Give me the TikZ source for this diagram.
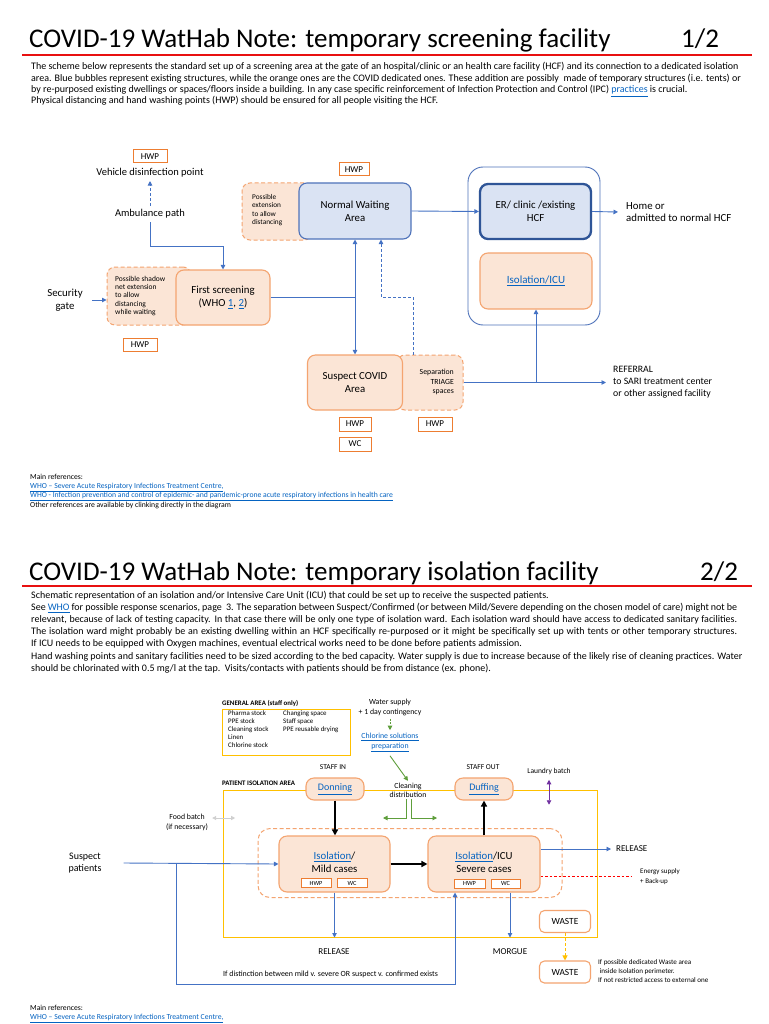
\documentclass[tikz,border=0pt]{standalone}
\usepackage{fontspec}
\setmainfont{Carlito}
\usetikzlibrary{arrows.meta}
\definecolor{orgfill}{HTML}{FBE5D6}
\definecolor{orgline}{HTML}{F4A470}
\definecolor{orgdark}{HTML}{ED7D31}
\definecolor{bluefill}{HTML}{DAE3F3}
\definecolor{blueline}{HTML}{4F73BA}
\definecolor{bluedark}{HTML}{2F5597}
\definecolor{arrblue}{HTML}{4472C4}
\definecolor{linkblue}{HTML}{0563C1}
\definecolor{ylw}{HTML}{FFC000}
\definecolor{grn}{HTML}{5E9E3B}
\definecolor{prp}{HTML}{7030A0}
\definecolor{titlered}{HTML}{E81010}
\definecolor{lgray}{HTML}{D0D0D0}
\newcommand{\lnk}[1]{\textcolor{linkblue}{\underline{#1}}}
\newcommand{\fsz}[2]{\fontsize{#1}{#2}\selectfont}
\begin{document}
\begin{tikzpicture}[x=1pt,y=-1pt,
  sz/.style 2 args={minimum width=#1pt, minimum height=#2pt},
  obox/.style={draw=orgline, fill=orgfill, rounded corners=8pt, line width=1.1pt, inner sep=0pt},
  dbox/.style={draw=orgline, fill=orgfill, dash pattern=on 4pt off 2.5pt, rounded corners=8pt, line width=1pt, inner sep=0pt},
  dnbox/.style={draw=orgline, dash pattern=on 4pt off 2.5pt, rounded corners=12pt, line width=1pt, inner sep=0pt},
  bbox/.style={draw=blueline, fill=bluefill, rounded corners=8pt, line width=1.1pt, inner sep=0pt},
  hbox/.style={draw=orgdark, fill=white, line width=1pt, inner sep=0pt, font=\fsz{9}{10}},
  wbox/.style={draw=orgline, fill=white, rounded corners=5pt, line width=1.1pt, inner sep=0pt},
  ln/.style={draw=arrblue, line width=0.9pt},
  arr/.style={draw=arrblue, line width=0.9pt, -{Triangle[length=4.5pt,width=4.5pt]}},
  arrb/.style={draw=arrblue, line width=0.9pt, {Triangle[length=4.5pt,width=4.5pt]}-{Triangle[length=4.5pt,width=4.5pt]}},
  garr/.style={draw=grn, line width=0.9pt, -{Triangle[length=4.5pt,width=4.5pt]}},
  parr/.style={draw=prp, line width=0.9pt, {Triangle[length=4.5pt,width=4.5pt]}-{Triangle[length=4.5pt,width=4.5pt]}},
  grarr/.style={draw=lgray, line width=0.9pt, {Triangle[length=4pt,width=4pt]}-{Triangle[length=4pt,width=4pt]}},
  yarr/.style={draw=ylw, line width=1pt, dash pattern=on 3pt off 2pt, -{Triangle[length=5pt,width=5pt]}},
  bkarr/.style={draw=black, line width=2pt, -{Triangle[length=6pt,width=6pt]}},
  lbl/.style={font=\fsz{10.8}{13}, align=center},
  ]
\useasboundingbox (0,0) rectangle (768,1024);
\fill[white] (0,0) rectangle (768,1024);

% ================= PAGE 1 =================
\node[anchor=base west, inner sep=0pt, font=\fsz{27}{30}] (title1) at (29,48) {COVID-19 WatHab Note: temporary screening facility};
\node[anchor=base west, inner sep=0pt, font=\fsz{27}{30}] (page1) at (681,48) {1/2};
\draw[titlered, line width=1.3pt] (22,55) -- (752,55);

\begin{scope}[every node/.style={anchor=base west, inner sep=0pt, font=\fsz{10}{11}}]
\node at (31,70) {The scheme below represents the standard set up of a screening area at the gate of an hospital/clinic or an health care facility (HCF) and its connection to a dedicated isolation};
\node at (31,81.5) {area. Blue bubbles represent existing structures, while the orange ones are the COVID dedicated ones. These addition are possibly\ \ made of temporary structures (i.e. tents) or};
\node at (31,93) {by re-purposed existing dwellings or spaces/floors inside a building. In any case specific reinforcement of Infection Protection and Control (IPC) \lnk{practices} is crucial.};
\node at (31,104) {Physical distancing and hand washing points (HWP) should be ensured for all people visiting the HCF.};
\end{scope}

% top-left
\node[hbox, sz={34}{13}] (hwpA) at (150,156.5) {HWP};
\node[font=\fsz{10.5}{12}] (veh) at (150,173) {Vehicle disinfection point};
\node[font=\fsz{10.5}{12}] (amb) at (150,214) {Ambulance path};
\draw[arr, dash pattern=on 3pt off 2pt] (amb.north) -- (veh.south);

\node[dbox, sz={84}{58}] (snet) at (149,296) {};
\node[obox, sz={94}{55}, lbl] (fs) at (223,297.5) {First screening\\(WHO \lnk{1}, \lnk{2})};
\node[anchor=west, align=left, inner sep=0pt, font=\fsz{7.5}{8.4}] (snett) at (115,296) {Possible shadow\\net extension\\to allow\\distancing\\while waiting};
\coordinate (ambk) at (223,246);
\draw[arr] (amb.south) |- (ambk) -- (fs.north);

\node[lbl] (sec) at (65,300) {Security\\gate};
\draw[arr] ([xshift=6pt]sec.east) -- (snet.west |- sec.east);
\node[hbox, sz={34}{13}] (hwpB) at (140,344.5) {HWP};

% normal waiting
\node[dbox, sz={70}{57}] (ext) at (277,211.5) {};
\node[bbox, sz={112}{56}, lbl] (nwa) at (355,211) {Normal Waiting\\Area};
\node[anchor=west, align=left, inner sep=0pt, font=\fsz{7.3}{8.3}] (extt) at (252,210) {Possible\\extension\\to allow\\distancing};
\node[hbox, sz={30}{13}] (hwpC) at (354,169.5) {HWP};

% container
\node[draw=blueline, rounded corners=15pt, line width=0.9pt, sz={132}{158}] (cont) at (534,246) {};
\node[draw=bluedark, fill=bluefill, line width=2.3pt, rounded corners=8pt, sz={111}{55}, lbl, inner sep=0pt] (er) at (535.5,211.5) {ER/ clinic /existing\\HCF};
\node[obox, sz={112}{56}, font=\fsz{11}{13}] (iso) at (536,281) {\lnk{Isolation/ICU}};

% suspect
\node[dbox, sz={66}{55}] (sep) at (430,382.5) {};
\node[obox, sz={95}{55}, lbl] (sus) at (355,382.5) {Suspect COVID\\Area};
\node[anchor=east, align=right, inner sep=0pt, font=\fsz{7.8}{9.3}] (sept) at (454,382) {Separation\\TRIAGE\\spaces};
\node[hbox, sz={32}{14}] (hwpD) at (355,424) {HWP};
\node[hbox, sz={32}{14}] (wcA) at (355,444) {WC};
\node[hbox, sz={34}{14}] (hwpE) at (435,424) {HWP};

% connectors
\draw[ln] (fs.east) -- (fs.east -| nwa.south);
\draw[arrb] (nwa.south) -- (sus.north);
\draw[arr] (nwa.east) -- (er.west);
\coordinate (d1) at (413,0);
\coordinate (d2) at (381,297);
\draw[arr, dash pattern=on 3pt off 2pt] (sep.north -| d1) |- (d2) -- (nwa.south -| d2);

\node[anchor=west, align=left, inner sep=0pt, font=\fsz{10.8}{12}] (home) at (626,212) {Home or\\admitted to normal HCF};
\draw[arr] (er.east) -- ([xshift=-8pt]home.west);

\node[anchor=west, align=left, inner sep=0pt, font=\fsz{9.8}{12}] (refl) at (613,382) {REFERRAL\\to SARI treatment center\\or other assigned facility};
\draw[arr] (sep.east) -- ([xshift=-7pt]refl.west |- sep.east);
\draw[arr] (iso.south |- sep.east) -- (iso.south);

\node[anchor=north west, align=left, inner sep=0pt, font=\fsz{7.7}{9.2}] (refs1) at (30,474) {Main references:\\\lnk{WHO – Severe Acute Respiratory Infections Treatment Centre,}\\\lnk{WHO - Infection prevention and control of epidemic- and pandemic-prone acute respiratory infections in health care}\\Other references are available by clinking directly in the diagram};

% ================= PAGE 2 =================
\node[anchor=base west, inner sep=0pt, font=\fsz{27}{30}] (title2) at (29,580) {COVID-19 WatHab Note: temporary isolation facility};
\node[anchor=base west, inner sep=0pt, font=\fsz{27}{30}] (page2) at (700,580) {2/2};
\draw[titlered, line width=1.3pt] (22,586) -- (752,586);

\begin{scope}[every node/.style={anchor=base west, inner sep=0pt, font=\fsz{10}{11}}]
\node at (31,598) {Schematic representation of an isolation and/or Intensive Care Unit (ICU) that could be set up to receive the suspected patients.};
\node at (31,610.5) {\makebox[706pt][s]{See \lnk{WHO} for possible response scenarios, page\ \ 3. The separation between Suspect/Confirmed (or between Mild/Severe depending on the chosen model of care) might not be}};
\node at (31,622.5) {\makebox[706pt][s]{relevant, because of lack of testing capacity. In that case there will be only one type of isolation ward. Each isolation ward should have access to dedicated sanitary facilities.}};
\node at (31,634.5) {\makebox[706pt][s]{The isolation ward might probably be an existing dwelling within an HCF specifically re-purposed or it might be specifically set up with tents or other temporary structures.}};
\node at (31,646.5) {If ICU needs to be equipped with Oxygen machines, eventual electrical works need to be done before patients admission.};
\node at (31,659.5) {Hand washing points and sanitary facilities need to be sized according to the bed capacity. Water supply is due to increase because of the likely rise of cleaning practices. Water};
\node at (31,671.5) {should be chlorinated with 0.5 mg/l at the tap.\ \ Visits/contacts with patients should be from distance (ex. phone).};
\end{scope}

% general area
\node[anchor=west, inner sep=0pt, font=\bfseries\fsz{6.9}{8}] (genl) at (222,703) {GENERAL AREA (staff only)};
\node[draw=ylw, line width=1pt, sz={128}{46}] (gen) at (286,732) {};
\node[anchor=north west, align=left, inner sep=0pt, font=\fsz{6.9}{8}] (gen1) at (228,710.5) {Pharma stock\\PPE stock\\Cleaning stock\\Linen\\Chlorine stock};
\node[anchor=north west, align=left, inner sep=0pt, font=\fsz{6.9}{8}] (gen2) at (283,710.5) {Changing space\\Staff space\\PPE reusable drying};

% isolation area frame
\node[draw=ylw, line width=1pt, sz={374}{147}] (isoarea) at (410,863.5) {};
\node[anchor=west, inner sep=0pt, font=\bfseries\fsz{6.9}{8}] (isol) at (222,783) {PATIENT ISOLATION AREA};

% water
\node[align=center, inner sep=0pt, font=\fsz{7.8}{10}] (water) at (390,707) {Water supply\\+ 1 day contingency};
\node[align=center, inner sep=0pt, font=\fsz{7.8}{9.5}] (chl) at (390,742.5) {\lnk{Chlorine solutions}\\\lnk{preparation}};
\node[align=center, inner sep=0pt, font=\fsz{7.8}{9.5}] (clean) at (408,790.5) {Cleaning\\distribution};
\draw[garr, dash pattern=on 2pt off 1.5pt] ([yshift=-3pt]water.south) -- ([yshift=3pt]chl.north);
\draw[garr] ([yshift=-4pt]chl.south) -- ([yshift=2pt]clean.north);
\coordinate (gl) at (383,818);
\coordinate (gr) at (437,818);
\draw[garr] ([xshift=-2pt,yshift=-1pt]clean.south) |- (gl);
\draw[garr] ([xshift=3pt,yshift=-1pt]clean.south) |- (gr);

% staff
\node[font=\fsz{7.5}{9}] (sin) at (333,767) {STAFF IN};
\node[font=\fsz{7.5}{9}] (sout) at (483,767) {STAFF OUT};
\node[obox, sz={58}{22}, font=\fsz{10}{12}] (don) at (335,789) {\lnk{Donning}};
\node[obox, sz={58}{22}, font=\fsz{10}{12}] (duf) at (484,789) {\lnk{Duffing}};
\node[font=\fsz{7.5}{9}] (laun) at (549,771) {Laundry batch};
\draw[parr] ([yshift=-2pt]laun.south) -- ++(0,25);

\node[align=center, inner sep=0pt, font=\fsz{7.8}{10}] (food) at (187,822) {Food batch\\(if necessary)};
\draw[grarr] ([xshift=4pt,yshift=4pt]food.east) -- ++(23,0);

% cohort
\node[dnbox, sz={304}{69}] (cohort) at (410,863) {};
\node[obox, sz={111}{56}] (mild) at (334.5,864) {};
\node[lbl, inner sep=0pt] (mildt) at (334.5,862.5) {\lnk{Isolation}/\\Mild cases};
\node[hbox, sz={30}{9}, font=\fsz{6.3}{7}] (mh) at (316,883) {HWP};
\node[hbox, sz={30}{9}, font=\fsz{6.3}{7}] (mw) at (352,883) {WC};
\node[obox, sz={112}{56}] (sev) at (484,864) {};
\node[lbl, inner sep=0pt] (sevt) at (484,862.5) {\lnk{Isolation}/ICU\\Severe cases};
\node[hbox, sz={31}{9}, font=\fsz{6.3}{7}] (sh) at (469.5,883.5) {HWP};
\node[hbox, sz={29}{9}, font=\fsz{6.3}{7}] (sw) at (505.5,883.5) {WC};

\draw[bkarr] (don.south) -- (don.south |- mild.north);
\draw[bkarr] (mild.east) -- (sev.west);
\draw[bkarr] (sev.north) -- (sev.north |- duf.south);

\node[align=center, inner sep=0pt, font=\fsz{10}{12.5}] (susp) at (85,863) {Suspect\\patients};
\draw[arr] ([xshift=22pt]susp.east) -- (mild.west);
\coordinate (br) at (176,863);
\coordinate (bb) at (455,984);
\draw[arr] (br) |- (bb) -- (sev.south -| bb);

\draw[arr] (mild.south) -- (mild.south |- isoarea.south);
\draw[arr] ([xshift=26pt]sev.south) -- ([xshift=26pt]sev.south |- isoarea.south);
\node[font=\fsz{9}{11}] (rel1) at (334,952) {RELEASE};
\node[font=\fsz{9}{11}] (morg) at (510,952) {MORGUE};

\node[anchor=west, inner sep=0pt, font=\fsz{9}{11}] (rel2) at (616,849) {RELEASE};
\draw[arr] (sev.east |- rel2.west) -- ([xshift=-5pt]rel2.west);

\node[anchor=west, align=left, inner sep=0pt, font=\fsz{7}{10.5}] (energy) at (640,876.5) {Energy supply\\+ Back-up};
\draw[red, line width=0.8pt, dash pattern=on 2.5pt off 2pt] (sev.east |- energy.west) -- ([xshift=-9pt]energy.west);

\node[wbox, sz={51}{22}, font=\fsz{9.4}{11}] (w1) at (565,921.5) {WASTE};
\node[wbox, sz={51}{22}, font=\fsz{9.4}{11}] (w2) at (565,972) {WASTE};
\draw[yarr] (w1.south) -- (w2.north);
\node[anchor=west, align=left, inner sep=0pt, font=\fsz{7.1}{9}] (wnote) at (598,971) {If possible dedicated Waste area\\\ inside Isolation perimeter.\\If not restricted access to external one};

\node[anchor=west, inner sep=0pt, font=\fsz{7.9}{9}] (dist) at (223,974) {If distinction between mild v. severe OR suspect v. confirmed exists};

\node[anchor=north west, align=left, inner sep=0pt, font=\fsz{7.7}{9.2}] (refs2) at (30,1005) {Main references:\\\lnk{WHO – Severe Acute Respiratory Infections Treatment Centre,}};
\end{tikzpicture}
\end{document}
